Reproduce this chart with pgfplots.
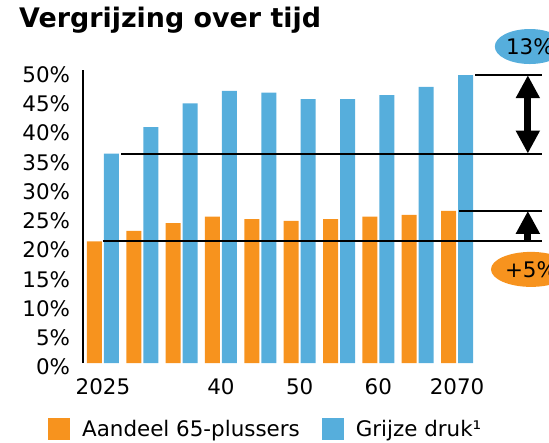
\documentclass[border=0pt]{standalone}
\usepackage{fontspec}
\setmainfont{DejaVu Sans}
\usepackage{pgfplots}
\pgfplotsset{compat=1.18}
\usetikzlibrary{arrows.meta,shapes.geometric}

\definecolor{cOrange}{RGB}{247,147,30}
\definecolor{cBlue}{RGB}{86,174,220}

\newcommand{\lblfont}{\fontsize{21.5}{25}\selectfont}

\begin{document}
\begin{tikzpicture}
\useasboundingbox (0,0) rectangle (549bp,443bp);

% title
\node[anchor=base west, inner sep=0pt, font=\fontsize{27}{32}\selectfont\bfseries]
  at (19bp,415bp) {Vergrijzing over tijd};

\begin{axis}[
    at={(83.3bp,80bp)}, anchor=south west,
    scale only axis,
    width=458.7bp, height=292.5bp,
    xmin=-0.5, xmax=11.16,
    ymin=0, ymax=50,
    axis lines*=left,
    x axis line style={draw=none},
    y axis line style={line width=1.9bp, black, -},
    major tick length=0pt,
    xtick={0,3,5,7,9},
    xticklabels={2025,40,50,60,2070},
    ytick={0,5,...,50},
    yticklabels={0\%,5\%,10\%,15\%,20\%,25\%,30\%,35\%,40\%,45\%,50\%},
    tick label style={font=\lblfont, inner sep=0pt},
    xticklabel style={anchor=north, yshift=-15bp},
    yticklabel style={anchor=east, xshift=-13bp, yshift=-4bp},
    clip=false,
    legend columns=2,
    legend style={draw=none, fill=none, inner sep=0pt,
        at={(axis description cs:-0.077,-0.265)}, anchor=south west,
        font=\lblfont, nodes={inner sep=0pt},
        /tikz/every odd column/.append style={column sep=12bp},
        /tikz/every even column/.append style={column sep=22bp}},
    sqleg/.style={legend image code/.code={
        \fill[##1] (0bp,-11bp) rectangle (22bp,11bp);}},
]

% share of 65+
\addplot[ybar, bar width=0.381, bar shift=-0.216, fill=cOrange, draw=none, sqleg]
    coordinates {(0,20.8) (1,22.6) (2,23.9) (3,25.0) (4,24.6)
                 (5,24.3) (6,24.6) (7,25.0) (8,25.3) (9,26.0)};
\addlegendentry{Aandeel 65-plussers}

% grey pressure
\addplot[ybar, bar width=0.381, bar shift=0.216, fill=cBlue, draw=none, sqleg]
    coordinates {(0,35.8) (1,40.3) (2,44.4) (3,46.5) (4,46.2)
                 (5,45.1) (6,45.1) (7,45.8) (8,47.2) (9,49.2)};
\addlegendentry{Grijze druk¹}

% reference lines
\addplot[black, line width=1.9bp, no marks, forget plot]
    coordinates {(0,20.8) (11.16,20.8)};
\addplot[black, line width=1.9bp, no marks, forget plot]
    coordinates {(0.46,35.8) (11.16,35.8)};
\addplot[black, line width=1.9bp, no marks, forget plot]
    coordinates {(9.05,26.0) (11.16,26.0)};
\addplot[black, line width=1.9bp, no marks, forget plot]
    coordinates {(9.46,49.2) (11.16,49.2)};

% arrows
\draw[line width=7bp, {Triangle[width=22.7bp,length=23bp]}-{Triangle[width=22.7bp,length=23bp]}]
    (axis cs:10.8,35.8) -- (axis cs:10.8,49.2);
\draw[line width=7bp, -{Triangle[width=22.7bp,length=23bp]}]
    (axis cs:10.8,20.8) -- (axis cs:10.8,26.0);

% labels
\node[ellipse, fill=cBlue, minimum width=70bp, minimum height=35bp, inner sep=0pt, font=\lblfont]
    at (axis cs:10.85,54.1) {13\%};
\node[ellipse, fill=cOrange, minimum width=80bp, minimum height=35bp, inner sep=0pt, font=\lblfont]
    at (axis cs:10.88,16.0) {+5\%};

\end{axis}
\end{tikzpicture}
\end{document}
